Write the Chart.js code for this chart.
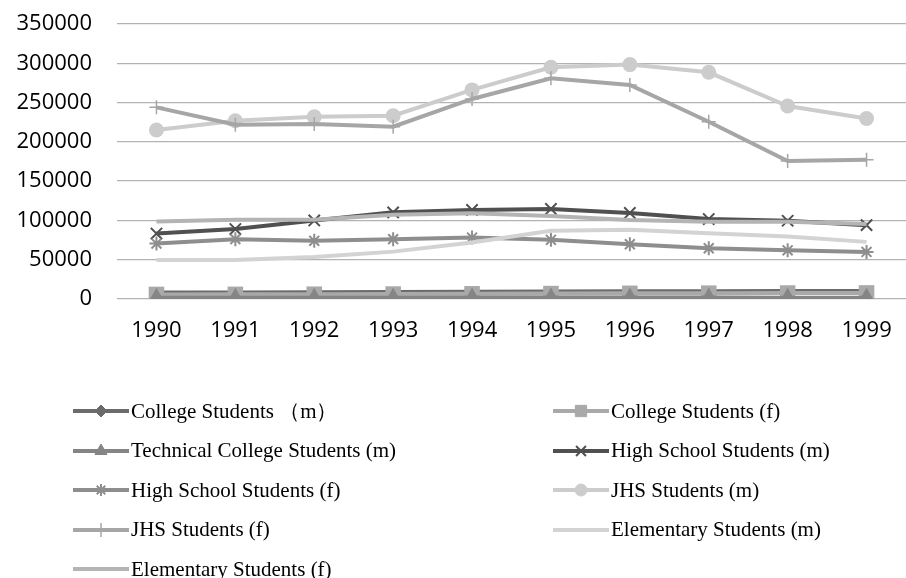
<!DOCTYPE html>
<html>
<head>
<meta charset="utf-8">
<script src="https://cdn.jsdelivr.net/npm/chart.js@4.4.1/dist/chart.umd.min.js"></script>
<style>
  html, body { margin: 0; padding: 0; background: #fff; overflow: hidden; width: 906px; height: 578px; }
  #wrap { position: absolute; left: 0; top: 0; width: 917px; height: 352px; }
  #legend { position: absolute; left: 0; top: 0; width: 906px; height: 578px; pointer-events: none; }
  .item { position: absolute; height: 24px; display: flex; align-items: center; white-space: nowrap;
          font-family: "Liberation Serif", "Times New Roman", serif; font-size: 21px; color: #000; }
  .item canvas { display: block; margin-right: 2px; }
</style>
</head>
<body>
<div id="wrap"><canvas id="c" width="917" height="352"></canvas></div>
<div id="legend"></div>
<script>
// ---- data ----
const years = ['1990','1991','1992','1993','1994','1995','1996','1997','1998','1999'];
const seriesNames = [
  'College Students （m）',
  'College Students (f)',
  'Technical College Students (m)',
  'High School Students (m)',
  'High School Students (f)',
  'JHS Students (m)',
  'JHS Students (f)',
  'Elementary Students (m)',
  'Elementary Students (f)'
];
const collegeM    = [8200, 8300, 8500, 8800, 9200, 9500, 9800, 9900, 10100, 10200];
const collegeF    = [5800, 5900, 6100, 6300, 6600, 6900, 7200, 7400, 7600, 7700];
const technicalM  = [1500, 1600, 1600, 1700, 1800, 1800, 1800, 1800, 1700, 1700];
const highSchoolM = [83300, 89000, 100000, 110300, 113300, 114600, 109500, 101800, 99600, 94000];
const highSchoolF = [70500, 76200, 74000, 76200, 78200, 75300, 69700, 64600, 62000, 59900];
const jhsM        = [215000, 226900, 232000, 233300, 266100, 294900, 298300, 288500, 245600, 229800];
const jhsF        = [243900, 221800, 222700, 219300, 254600, 280900, 272400, 225600, 175500, 177300];
const elementaryM = [49600, 49600, 53500, 60300, 71800, 86800, 88100, 83800, 79500, 72700];
const elementaryF = [98700, 100900, 101000, 107300, 109000, 105600, 100400, 98300, 98300, 95400];
const yTickStep = 50000, yMax = 350000;

// ---- styles ----
const values = [collegeM, collegeF, technicalM, highSchoolM, highSchoolF, jhsM, jhsF, elementaryM, elementaryF];
const colors = ['#6b6b6b', '#a9a9a9', '#858585', '#505050', '#8e8e8e', '#cccccc', '#a6a6a6', '#d3d3d3', '#b4b4b4'];
const styles = [
  {ps: 'rectRot',  r: 5,  bw: 0,   lr: 6},
  {ps: 'rect',     r: 11, bw: 0,   lr: 8},
  {ps: 'triangle', r: 10, bw: 0,   lr: 7},
  {ps: 'crossRot', r: 8,  bw: 2,   lr: 7},
  {ps: 'star',     r: 7,  bw: 2,   lr: 6},
  {ps: 'circle',   r: 7.5,bw: 0,   lr: 6},
  {ps: 'cross',    r: 7,  bw: 1.5, lr: 7},
  {ps: false,      r: 0,  bw: 0,   lr: 0},
  {ps: false,      r: 0,  bw: 0,   lr: 0}
];

const datasets = seriesNames.map((name, i) => ({
  label: name,
  data: values[i],
  borderColor: colors[i],
  backgroundColor: colors[i],
  pointBackgroundColor: colors[i],
  pointBorderColor: colors[i],
  borderWidth: 4,
  tension: 0,
  pointStyle: styles[i].ps || 'circle',
  pointRadius: styles[i].r,
  pointBorderWidth: styles[i].bw,
  pointHoverRadius: styles[i].r,
  order: seriesNames.length - 1 - i
}));

new Chart(document.getElementById('c'), {
  type: 'line',
  data: { labels: years, datasets },
  options: {
    responsive: false,
    animation: false,
    devicePixelRatio: 1,
    layout: { padding: { top: 24, left: 0, right: 0, bottom: 0 } },
    plugins: { legend: { display: false }, tooltip: { enabled: false } },
    scales: {
      x: {
        offset: true,
        grid: { display: false, drawTicks: false },
        border: { display: false },
        ticks: { color: '#000', padding: 19, font: { family: 'Open Sans', size: 22 }, maxRotation: 0 },
        afterFit: s => { s.height = 53; s.paddingLeft = 0; s.paddingRight = 0; }
      },
      y: {
        min: 0, max: yMax,
        grid: { color: '#b3b3b3', lineWidth: 1.3, drawTicks: false },
        border: { display: false },
        ticks: { stepSize: yTickStep, color: '#000', padding: 25, font: { family: 'Open Sans', size: 22 },
                 callback: v => String(v) },
        afterFit: s => { s.width = 117; s.paddingTop = 0; s.paddingBottom = 0; }
      }
    }
  }
});

// ---- legend (HTML, two columns) ----
const legend = document.getElementById('legend');
seriesNames.forEach((name, i) => {
  const col = i % 2, row = Math.floor(i / 2);
  const div = document.createElement('div');
  div.className = 'item';
  div.style.left = (col ? 553 : 73) + 'px';
  div.style.top = (411 + row * 39.5 - 12) + 'px';
  const cv = document.createElement('canvas');
  cv.width = 56; cv.height = 24;
  const ctx = cv.getContext('2d');
  ctx.strokeStyle = colors[i];
  ctx.lineWidth = 4;
  ctx.beginPath(); ctx.moveTo(0, 12); ctx.lineTo(56, 12); ctx.stroke();
  if (styles[i].ps) {
    ctx.fillStyle = colors[i];
    ctx.strokeStyle = colors[i];
    ctx.lineWidth = styles[i].bw || 1;
    Chart.helpers.drawPoint(ctx, { pointStyle: styles[i].ps, rotation: 0, radius: styles[i].lr, borderWidth: styles[i].bw || 1 }, 28, 12);
  }
  div.appendChild(cv);
  const sp = document.createElement('span');
  sp.textContent = name;
  div.appendChild(sp);
  legend.appendChild(div);
});
</script>
</body>
</html>
